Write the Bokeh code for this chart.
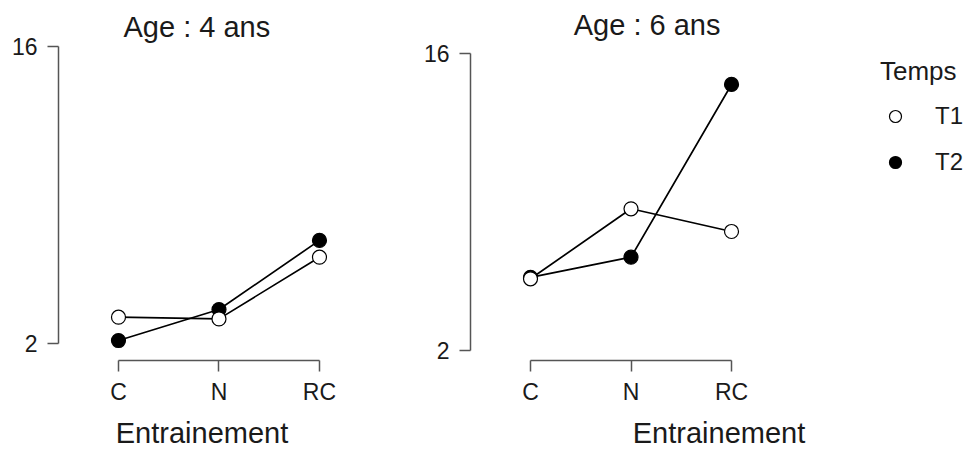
from bokeh.plotting import figure
from bokeh.layouts import row
from bokeh.models import FixedTicker, Range1d, Legend, LegendItem, Label
from bokeh.embed import file_html
from bokeh.resources import INLINE

# Training conditions and measurement times
categories = ["C", "N", "RC"]
x_pos = [1, 2, 3]

# Mean scores, 4-year-olds
age4_t1 = [3.24, 3.16, 6.07]
age4_t2 = [2.14, 3.60, 6.86]

# Mean scores, 6-year-olds
age6_t1 = [5.38, 8.68, 7.61]
age6_t2 = [5.45, 6.40, 14.54]

y_ticks = [2, 16]

FONT = "Liberation Sans"
AXIS_COL = "#555555"
TEXT_COL = "#1a1a1a"
BOTTOM = 92


def style_axes(p):
    p.xgrid.visible = False
    p.ygrid.visible = False
    p.outline_line_color = None
    p.background_fill_color = "white"
    p.border_fill_color = "white"

    xa = p.xaxis[0]
    xa.ticker = FixedTicker(ticks=x_pos)
    xa.major_label_overrides = {v: c for v, c in zip(x_pos, categories)}
    xa.bounds = (1, 3)
    xa.axis_label = "Entrainement"
    xa.axis_label_text_font = FONT
    xa.axis_label_text_font_size = "29px"
    xa.axis_label_text_font_style = "normal"
    xa.axis_label_text_color = TEXT_COL
    xa.axis_label_standoff = 9

    ya = p.yaxis[0]
    ya.ticker = FixedTicker(ticks=y_ticks)
    ya.bounds = (2, 16)
    ya.major_label_standoff = 10

    for ax in (xa, ya):
        ax.axis_line_color = AXIS_COL
        ax.axis_line_width = 1.5
        ax.major_tick_line_color = AXIS_COL
        ax.major_tick_line_width = 1.5
        ax.major_tick_out = 11
        ax.major_tick_in = 0
        ax.minor_tick_line_color = None
        ax.major_label_text_font = FONT
        ax.major_label_text_font_size = "23px"
        ax.major_label_text_color = TEXT_COL
    xa.major_label_standoff = 7


def draw_series(p, t1, t2):
    p.line(x_pos, t1, line_color="black", line_width=1.7)
    p.line(x_pos, t2, line_color="black", line_width=1.7)
    s2 = p.scatter(x_pos, t2, marker="circle", size=14,
                   fill_color="black", line_color="black", line_width=1.2)
    s1 = p.scatter(x_pos, t1, marker="circle", size=14,
                   fill_color="white", line_color="black", line_width=1.2)
    return s1, s2


def add_title(p, x, y, text):
    p.add_layout(Label(x=x, y=y, text=text, text_font=FONT,
                       text_font_size="29px", text_color=TEXT_COL,
                       text_align="center", text_baseline="alphabetic"))


# Left panel: 4 years
p1 = figure(width=400, height=452, output_backend="svg", toolbar_location=None,
            x_range=Range1d(0.403, 3.259), y_range=Range1d(1.1986, 18.168),
            min_border_left=58, min_border_right=55,
            min_border_top=0, min_border_bottom=BOTTOM)
style_axes(p1)
draw_series(p1, age4_t1, age4_t2)
add_title(p1, 1.78, 16.94, "Age : 4 ans")

# Right panel: 6 years, with the legend on its right side
p2 = figure(width=567, height=452, output_backend="svg", toolbar_location=None,
            x_range=Range1d(0.403, 5.348), y_range=Range1d(1.5286, 18.498),
            min_border_left=70, min_border_right=0,
            min_border_top=0, min_border_bottom=BOTTOM)
style_axes(p2)
r1, r2 = draw_series(p2, age6_t1, age6_t2)
add_title(p2, 2.16, 17.32, "Age : 6 ans")

legend = Legend(items=[LegendItem(label="T1", renderers=[r1]),
                       LegendItem(label="T2", renderers=[r2])],
                location=(410, 180), title="Temps",
                title_text_font=FONT, title_text_font_size="26px",
                title_text_font_style="normal", title_text_color=TEXT_COL,
                title_standoff=11,
                label_text_font=FONT, label_text_font_size="24px",
                label_text_color=TEXT_COL,
                glyph_width=30, glyph_height=36, label_height=36,
                label_standoff=25, spacing=10, padding=0, margin=0,
                border_line_color=None, background_fill_alpha=0)
p2.add_layout(legend)

layout = row(p1, p2, spacing=0)

with open("out.html", "w") as f:
    f.write(file_html(layout, INLINE))
